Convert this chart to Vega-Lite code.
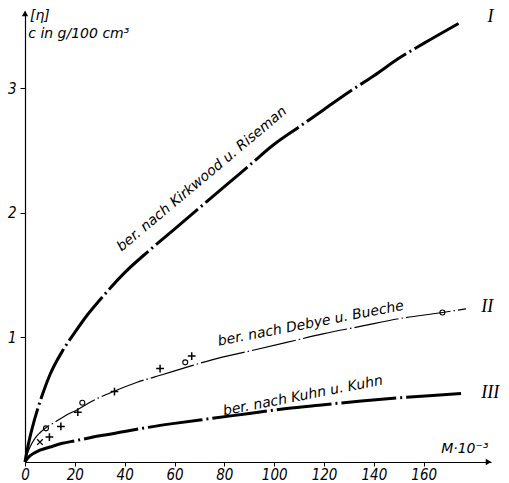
{
  "$schema": "https://vega.github.io/schema/vega-lite/v6.json",
  "width": 466,
  "height": 451,
  "autosize": "none",
  "padding": {"left": 25, "top": 11, "right": 18, "bottom": 21},
  "background": "white",
  "config": {
    "view": {"stroke": null},
    "axis": {"grid": false, "domainColor": "black", "tickColor": "black", "labelColor": "black", "labelFont": "DejaVu Sans Condensed, DejaVu Sans", "labelFontStyle": "italic", "labelFontSize": 15, "domainWidth": 1.2, "tickWidth": 1}
  },
  "datasets": {
    "c1": [
      {"x": 0, "y": 0}, {"x": 1, "y": 0.11}, {"x": 2, "y": 0.2}, {"x": 3, "y": 0.28}, {"x": 5, "y": 0.42},
      {"x": 7.5, "y": 0.57}, {"x": 10, "y": 0.7}, {"x": 15, "y": 0.89}, {"x": 20, "y": 1.04}, {"x": 25, "y": 1.18},
      {"x": 30, "y": 1.3}, {"x": 40, "y": 1.52}, {"x": 50, "y": 1.7}, {"x": 60, "y": 1.87}, {"x": 70, "y": 2.04},
      {"x": 80, "y": 2.21}, {"x": 90, "y": 2.38}, {"x": 100, "y": 2.55}, {"x": 110, "y": 2.69}, {"x": 120, "y": 2.83},
      {"x": 130, "y": 2.97}, {"x": 140, "y": 3.1}, {"x": 150, "y": 3.24}, {"x": 160, "y": 3.36}, {"x": 174, "y": 3.52}
    ],
    "c2": [
      {"x": 0, "y": 0}, {"x": 1, "y": 0.07}, {"x": 2, "y": 0.12}, {"x": 4, "y": 0.19}, {"x": 6, "y": 0.235},
      {"x": 8.4, "y": 0.275}, {"x": 12, "y": 0.32}, {"x": 16, "y": 0.37}, {"x": 21, "y": 0.42}, {"x": 28, "y": 0.5},
      {"x": 36, "y": 0.57}, {"x": 45, "y": 0.64}, {"x": 55, "y": 0.7}, {"x": 64, "y": 0.755}, {"x": 75, "y": 0.82},
      {"x": 90, "y": 0.89}, {"x": 105, "y": 0.96}, {"x": 120, "y": 1.03}, {"x": 135, "y": 1.09}, {"x": 150, "y": 1.15},
      {"x": 167.5, "y": 1.2}, {"x": 177, "y": 1.23}
    ],
    "c3": [
      {"x": 0, "y": 0}, {"x": 1, "y": 0.03}, {"x": 2, "y": 0.05}, {"x": 4, "y": 0.075}, {"x": 6, "y": 0.095},
      {"x": 10, "y": 0.12}, {"x": 15, "y": 0.15}, {"x": 20, "y": 0.17}, {"x": 30, "y": 0.21}, {"x": 40, "y": 0.245},
      {"x": 50, "y": 0.28}, {"x": 60, "y": 0.31}, {"x": 75, "y": 0.35}, {"x": 90, "y": 0.39}, {"x": 105, "y": 0.43},
      {"x": 120, "y": 0.46}, {"x": 135, "y": 0.49}, {"x": 150, "y": 0.515}, {"x": 165, "y": 0.535}, {"x": 175.5, "y": 0.55}
    ],
    "pts": [
      {"x": 8.4, "y": 0.27, "kind": "circle"}, {"x": 23.0, "y": 0.476, "kind": "circle"},
      {"x": 64.3, "y": 0.8, "kind": "circle"}, {"x": 167.5, "y": 1.2, "kind": "circle"},
      {"x": 14.4, "y": 0.285, "kind": "plus"}, {"x": 21.2, "y": 0.4, "kind": "plus"},
      {"x": 35.9, "y": 0.565, "kind": "plus"}, {"x": 54.2, "y": 0.75, "kind": "plus"},
      {"x": 66.9, "y": 0.85, "kind": "plus"}, {"x": 9.8, "y": 0.2, "kind": "plus"},
      {"x": 6.0, "y": 0.16, "kind": "x"}
    ],
    "labels": [
      {"x": 71, "y": 2.27, "label": "ber. nach Kirkwood u. Riseman"},
      {"x": 114.7, "y": 1.11, "label": "ber. nach Debye  u. Bueche"},
      {"x": 111.5, "y": 0.53, "label": "ber. nach Kuhn  u. Kuhn"}
    ],
    "roman": [
      {"x": 186.8, "y": 3.57, "label": "I"},
      {"x": 185.5, "y": 1.245, "label": "II"},
      {"x": 186.7, "y": 0.555, "label": "III"}
    ],
    "titles": [
      {"x": 2, "y": 3.55, "label": "[η]"},
      {"x": 1.3, "y": 3.405, "label": "c in g/100 cm³"},
      {"x": 167, "y": 0.07, "label": "M·10⁻³"}
    ],
    "arrows": [
      {"x": 186, "y": 0, "dir": "right"},
      {"x": 0, "y": 3.6, "dir": "up"}
    ]
  },
  "encoding": {
    "x": {"field": "x", "type": "quantitative", "scale": {"domain": [0, 187], "nice": false, "zero": false},
      "axis": {"title": null, "values": [0, 20, 40, 60, 80, 100, 120, 140, 160], "tickSize": 4, "labelPadding": 1, "labelFlush": false}},
    "y": {"field": "y", "type": "quantitative", "scale": {"domain": [0, 3.62], "nice": false, "zero": false},
      "axis": {"title": null, "values": [1, 2, 3], "tickSize": 5, "labelPadding": 4}}
  },
  "layer": [
    {"data": {"name": "c1"}, "mark": {"type": "line", "interpolate": "monotone", "color": "black", "strokeWidth": 3, "strokeDash": [55, 4, 2, 4]}},
    {"data": {"name": "c2"}, "mark": {"type": "line", "interpolate": "monotone", "color": "black", "strokeWidth": 1.2, "strokeDash": [45, 3, 1.5, 3]}},
    {"data": {"name": "c3"}, "mark": {"type": "line", "interpolate": "monotone", "color": "black", "strokeWidth": 3, "strokeDash": [55, 4, 2, 4]}},
    {"data": {"name": "pts"}, "transform": [{"filter": "datum.kind === 'circle'"}],
      "mark": {"type": "point", "shape": "circle", "filled": false, "color": "black", "strokeWidth": 1.1, "size": 25, "opacity": 1}},
    {"data": {"name": "pts"}, "transform": [{"filter": "datum.kind === 'plus'"}],
      "mark": {"type": "point", "shape": "M-1,0L1,0M0,-1L0,1", "filled": false, "color": "black", "strokeWidth": 1.5, "size": 60, "opacity": 1}},
    {"data": {"name": "pts"}, "transform": [{"filter": "datum.kind === 'x'"}],
      "mark": {"type": "point", "shape": "M-0.8,-0.8L0.8,0.8M-0.8,0.8L0.8,-0.8", "filled": false, "color": "black", "strokeWidth": 1.3, "size": 50, "opacity": 1}},
    {"data": {"name": "labels"}, "transform": [{"filter": "datum.label === 'ber. nach Kirkwood u. Riseman'"}],
      "mark": {"type": "text", "angle": 320, "font": "DejaVu Sans", "fontStyle": "italic", "fontSize": 14, "align": "center", "baseline": "middle", "color": "black"},
      "encoding": {"text": {"field": "label"}}},
    {"data": {"name": "labels"}, "transform": [{"filter": "datum.label !== 'ber. nach Kirkwood u. Riseman'"}],
      "mark": {"type": "text", "angle": 349, "font": "DejaVu Sans", "fontStyle": "italic", "fontSize": 14, "align": "center", "baseline": "middle", "color": "black"},
      "encoding": {"text": {"field": "label"}}},
    {"data": {"name": "roman"},
      "mark": {"type": "text", "font": "Liberation Serif, DejaVu Serif", "fontStyle": "italic", "fontSize": 18, "align": "center", "baseline": "middle", "color": "black"},
      "encoding": {"text": {"field": "label"}}},
    {"data": {"name": "titles"},
      "mark": {"type": "text", "font": "DejaVu Sans", "fontStyle": "italic", "fontSize": 14, "align": "left", "baseline": "alphabetic", "color": "black"},
      "encoding": {"text": {"field": "label"}}},
    {"data": {"name": "arrows"}, "transform": [{"filter": "datum.dir === 'right'"}],
      "mark": {"type": "point", "shape": "triangle-right", "filled": true, "color": "black", "size": 40, "opacity": 1}},
    {"data": {"name": "arrows"}, "transform": [{"filter": "datum.dir === 'up'"}],
      "mark": {"type": "point", "shape": "triangle-up", "filled": true, "color": "black", "size": 40, "opacity": 1}}
  ]
}
